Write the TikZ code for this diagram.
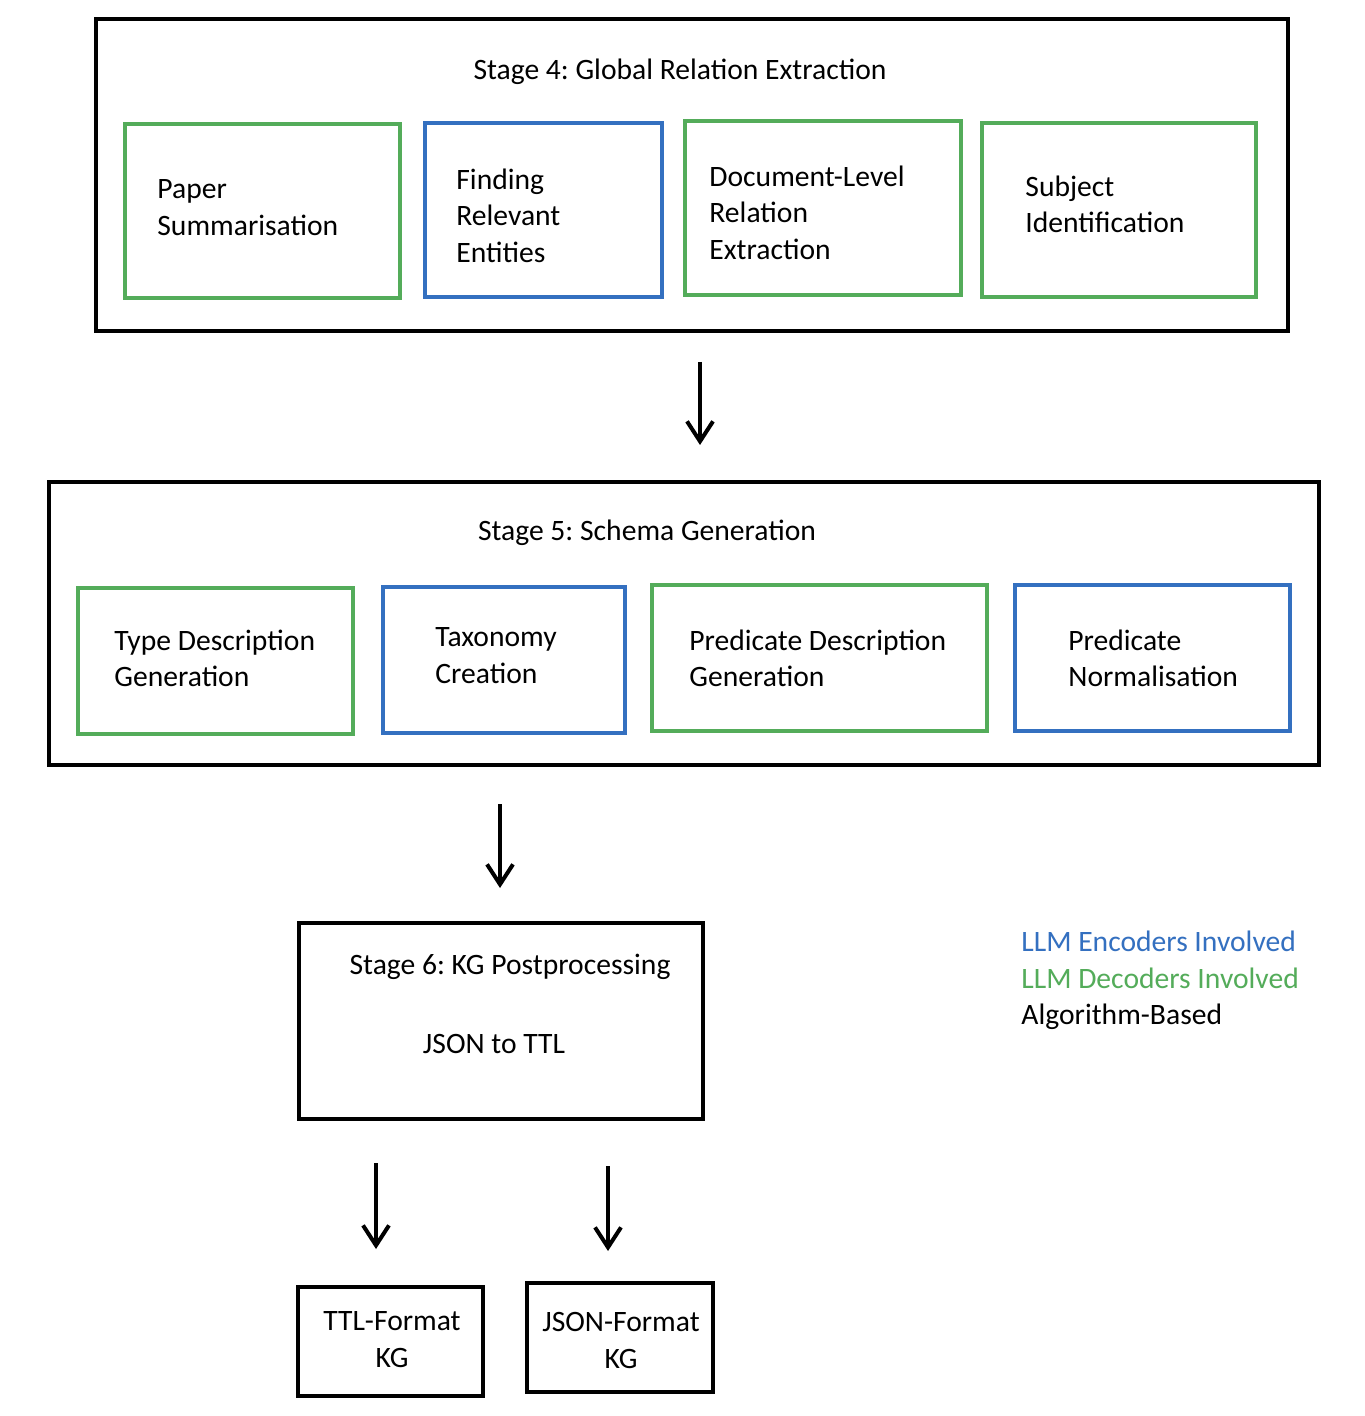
\documentclass[tikz,border=0pt]{standalone}
\usepackage{fontspec}
\setmainfont{Carlito}
\usetikzlibrary{arrows.meta}
\definecolor{cgreen}{RGB}{84,172,90}
\definecolor{cblue}{RGB}{52,112,192}
\frenchspacing
\begin{document}
\begin{tikzpicture}[x=0.5pt,y=-0.5pt,
  stagebox/.style={draw=black,line width=2pt,anchor=north west,inner sep=0pt,outer sep=0pt},
  gbox/.style={draw=cgreen,line width=1.7pt,anchor=north west,inner sep=0pt,outer sep=0pt},
  bbox/.style={draw=cblue,line width=1.7pt,anchor=north west,inner sep=0pt,outer sep=0pt},
  kbox/.style={draw=black,line width=2pt,anchor=north west,inner sep=0pt,outer sep=0pt},
  txt/.style={font=\fontsize{14.8pt}{18.25pt}\selectfont,inner sep=0pt,align=left,anchor=west,yshift=-1.2pt},
  ctxt/.style={font=\fontsize{14.8pt}{18.25pt}\selectfont,inner sep=0pt,align=center,yshift=-1.2pt},
  arr/.style={line width=2pt,-{Straight Barb[length=10pt,width=13pt]}}]
\useasboundingbox (0,0) rectangle (1364,1416);
\fill[white] (0,0) rectangle (1364,1416);

% Stage 4
\node[stagebox,minimum width=596pt,minimum height=156pt] (s4) at (96,19) {};
\node[ctxt] (s4t) at (680,69) {Stage 4: Global Relation Extraction};
\node[gbox,minimum width=137.5pt,minimum height=87pt] (ps) at (125,124) {};
\node[txt] (pst) at (157,205) {Paper\\Summarisation};
\node[bbox,minimum width=118.5pt,minimum height=87pt] (fre) at (425,123) {};
\node[txt] (fret) at (456,213) {Finding\\Relevant\\Entities};
\node[gbox,minimum width=138pt,minimum height=87pt] (dlre) at (685,121) {};
\node[txt] (dlret) at (709,210) {Document-Level\\Relation\\Extraction};
\node[gbox,minimum width=137pt,minimum height=87pt] (si) at (982,123) {};
\node[txt] (sit) at (1025,202) {Subject\\Identification};

\coordinate (a1s) at (700,362);
\coordinate (a1e) at (700,445);
\draw[arr] (a1s) -- (a1e);

% Stage 5
\node[stagebox,minimum width=635pt,minimum height=141.5pt] (s5) at (49,482) {};
\node[ctxt] (s5t) at (647,530) {Stage 5: Schema Generation};
\node[gbox,minimum width=137.5pt,minimum height=73pt] (tdg) at (78,588) {};
\node[txt] (tdgt) at (114,656) {Type Description\\Generation};
\node[bbox,minimum width=121pt,minimum height=73pt] (tc) at (383,587) {};
\node[txt] (tct) at (435,653) {Taxonomy\\Creation};
\node[gbox,minimum width=167.5pt,minimum height=73pt] (pdg) at (652,585) {};
\node[txt] (pdgt) at (689,656) {Predicate Description\\Generation};
\node[bbox,minimum width=137.5pt,minimum height=73pt] (pn) at (1015,585) {};
\node[txt] (pnt) at (1068,656) {Predicate\\Normalisation};

\coordinate (a2s) at (500,804);
\coordinate (a2e) at (500,888);
\draw[arr] (a2s) -- (a2e);

% Stage 6
\node[kbox,minimum width=202pt,minimum height=98pt] (s6) at (299,923) {};
\node[ctxt] (s6t) at (510,964) {Stage 6: KG Postprocessing};
\node[ctxt] (s6j) at (494,1042) {JSON to TTL};

% Legend
\node[txt] (leg) at (1021,978) {\textcolor{cblue}{LLM Encoders Involved}\\\textcolor{cgreen}{LLM Decoders Involved}\\Algorithm-Based};

% Outputs
\coordinate (a3s) at (376,1163);
\coordinate (a3e) at (376,1249);
\draw[arr] (a3s) -- (a3e);
\coordinate (a4s) at (608,1166);
\coordinate (a4e) at (608,1251);
\draw[arr] (a4s) -- (a4e);

\node[kbox,minimum width=92.5pt,minimum height=54.5pt] (ttl) at (298,1287) {};
\node[ctxt] (ttlt) at (392,1337) {TTL-Format\\KG};
\node[kbox,minimum width=93pt,minimum height=54.5pt] (json) at (527,1283) {};
\node[ctxt] (jsont) at (621,1338) {JSON-Format\\KG};
\end{tikzpicture}
\end{document}
